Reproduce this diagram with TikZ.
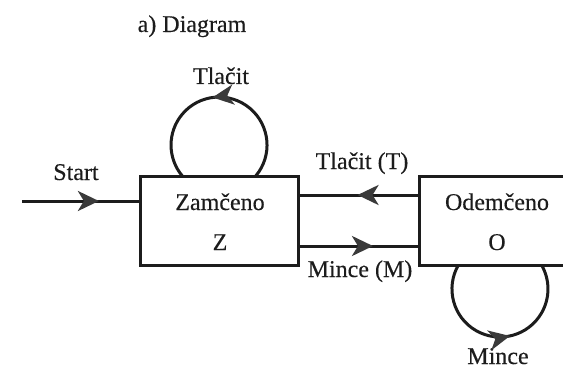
\documentclass[tikz,border=0pt]{standalone}
\usepackage{fontspec}
\setmainfont{Liberation Serif}
\newfontfamily\lblfont[FakeBold=0.3]{Liberation Serif}
\usetikzlibrary{arrows.meta,decorations.markings}
\definecolor{linecol}{HTML}{1C1C1C}
\definecolor{arrowcol}{HTML}{3A3A3A}
\tikzset{
  stbox/.style={draw=linecol,line width=3pt,rectangle,inner sep=0pt},
  conn/.style={draw=linecol,line width=3pt},
  arrowat/.style={postaction={decorate,decoration={markings,
      mark=at position #1 with {\arrow{Stealth[length=21pt,width=20pt,inset=6pt,color=arrowcol]}}}}},
  lbl/.style={inner sep=0pt,anchor=base,font=\lblfont\fontsize{24}{28}\selectfont,text=linecol}
}
\begin{document}
\begin{tikzpicture}[x=1pt,y=1pt]
\useasboundingbox (0,0) rectangle (563,-369);
\fill[white] (0,0) rectangle (563,-369);
\clip (0,0) rectangle (563,-369);
% boxes
\node[stbox,minimum width=158pt,minimum height=89pt] (Z) at (219,-220.5) {};
\node[stbox,minimum width=200pt,minimum height=89pt,anchor=west] (O) at (418,-220.5) {};
% texts
\node[lbl] (title) at (192,-32) {a) Diagram};
\node[lbl] (zt) at (220,-210) {Zamčeno};
\node[lbl] (zz) at (220,-250) {Z};
\node[lbl] (ot) at (497,-210) {Odemčeno};
\node[lbl] (oo) at (497,-250) {O};
\node[lbl] (tt) at (362,-169) {Tlačit (T)};
\node[lbl] (mm) at (360,-277) {Mince (M)};
\node[lbl] (tl) at (221,-84) {Tlačit};
\node[lbl] (ml) at (498,-364) {Mince};
\node[lbl] (st) at (76,-180) {Start};
% start arrow
\coordinate (s) at (22,-201);
\draw[conn,arrowat=0.66] (s) -- (s -| Z.west);
% transitions
\draw[conn,arrowat=0.51] ([yshift=25.5pt]O.west) -- ([yshift=25.5pt]Z.east);
\draw[conn,arrowat=0.62] ([yshift=-25.5pt]Z.east) -- ([yshift=-25.5pt]O.west);
% self loops
\coordinate (zl) at (255.8,-175.9);
\draw[conn,arrowat=0.53] (zl) arc[start angle=-40,end angle=220,radius=48];
\coordinate (ol) at (458.4,-265);
\draw[conn,arrowat=0.55] (ol) arc[start angle=150,end angle=390,radius=48];
\end{tikzpicture}
\end{document}
